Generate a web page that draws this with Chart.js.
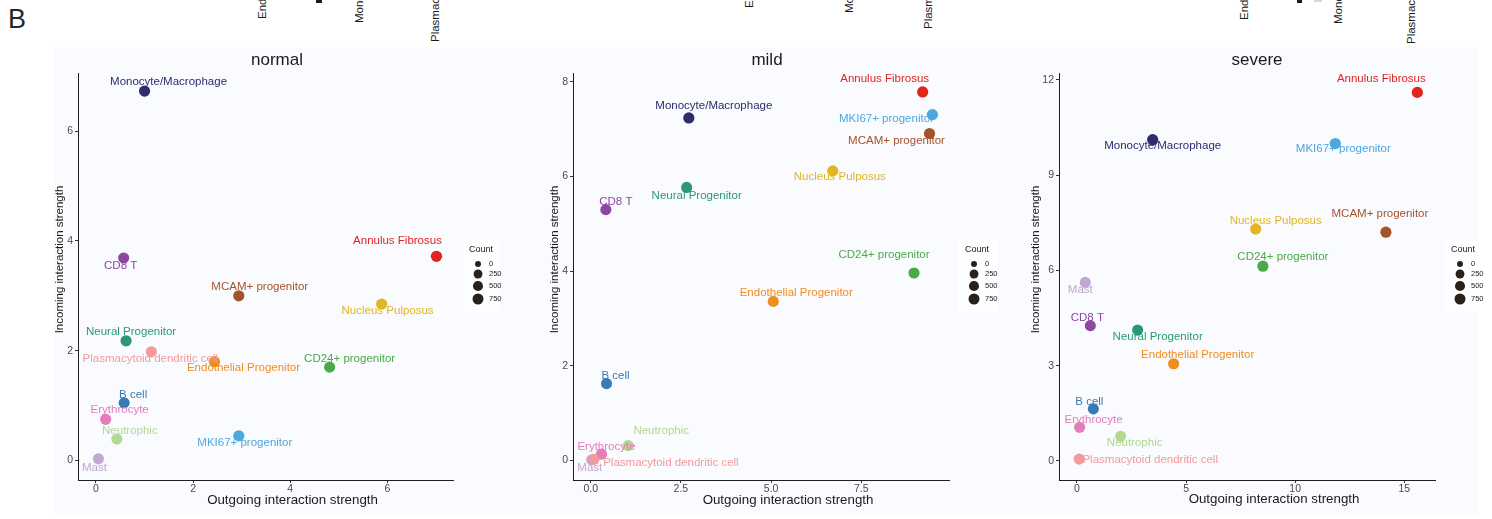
<!DOCTYPE html>
<html lang="en">
<head>
<meta charset="utf-8">
<title>Incoming vs outgoing interaction strength by cell type</title>
<script src="https://cdn.jsdelivr.net/npm/chart.js@4.4.1/dist/chart.umd.min.js"></script>
<style>
  html, body { margin:0; padding:0; background:#ffffff; }
  body { position:relative; width:1492px; height:519px; overflow:hidden;
         font-family:"Liberation Sans", Arial, Helvetica, sans-serif; }
  #plotBg { position:absolute; left:53px; top:47px; width:1424px; height:468px; background:#f9fbfe; }
  .legendBg { position:absolute; top:240px; height:72px; background:#fdfeff; }
  .figTag { position:absolute; left:8px; top:6px; font-size:27px; line-height:27px; color:#262626; }
  .edgeLabel { position:absolute; font-size:11.5px; line-height:11.5px; color:#1a1a1a;
               white-space:nowrap; transform:rotate(-90deg); transform-origin:0 0; }
  .edgeKey { position:absolute; top:0; }
  canvas { position:absolute; top:40px; }
</style>
</head>
<body>
<div id="plotBg"></div>
<div class="legendBg" style="left:463px;width:37px"></div>
<div class="legendBg" style="left:958px;width:40px"></div>
<div class="legendBg" style="left:1445px;width:32px"></div>

<div class="figTag">B</div>

<!-- axis labels of the figure row above, running off the top edge -->
<div class="edgeLabel" style="left:257px;top:19px">Endothelial Progenitor</div>
<div class="edgeKey" style="left:316px;width:6px;height:3px;background:#1a1a1a"></div>
<div class="edgeLabel" style="left:353.5px;top:22.5px">Monocyte/Macrophage</div>
<div class="edgeLabel" style="left:429.5px;top:42px">Plasmacytoid dendritic cell</div>

<div class="edgeLabel" style="left:743.5px;top:7.7px">Endothelial Progenitor</div>
<div class="edgeLabel" style="left:843.5px;top:12.7px">Monocyte/Macrophage</div>
<div class="edgeLabel" style="left:923px;top:29.3px">Plasmacytoid dendritic cell</div>

<div class="edgeLabel" style="left:1239px;top:20px">Endothelial Progenitor</div>
<div class="edgeKey" style="left:1297px;width:5px;height:3px;background:#1a1a1a"></div>
<div class="edgeKey" style="left:1314px;width:8px;height:2px;background:#d9d9d9"></div>
<div class="edgeLabel" style="left:1332.5px;top:24.3px">Monocyte/Macrophage</div>
<div class="edgeLabel" style="left:1406px;top:43.7px">Plasmacytoid dendritic cell</div>

<canvas id="panelNormal" width="475" height="475" style="left:40px"></canvas>
<canvas id="panelMild" width="500" height="475" style="left:500px"></canvas>
<canvas id="panelSevere" width="492" height="475" style="left:1000px"></canvas>

<script>
// ---- data ---------------------------------------------------------------
const categories = [
  "Annulus Fibrosus", "B cell", "CD24+ progenitor", "CD8 T",
  "Endothelial Progenitor", "Erythrocyte", "Mast", "MCAM+ progenitor",
  "MKI67+ progenitor", "Monocyte/Macrophage", "Neural Progenitor",
  "Neutrophic", "Nucleus Pulposus", "Plasmacytoid dendritic cell"
];

// outgoing (x) and incoming (y) interaction strength per condition
const normalX = [7.01, 0.58, 4.81, 0.57, 2.44, 0.20, 0.05, 2.94, 2.94, 1.00, 0.62, 0.43, 5.88, 1.14];
const normalY = [3.72, 1.05, 1.70, 3.69, 1.80, 0.75, 0.03, 3.00, 0.45, 6.73, 2.18, 0.39, 2.85, 1.98];

const mildX = [9.20, 0.44, 8.96, 0.42, 5.06, 0.30, 0.03, 9.39, 9.47, 2.72, 2.66, 1.04, 6.71, 0.09];
const mildY = [7.79, 1.62, 3.96, 5.30, 3.36, 0.13, 0.01, 6.91, 7.31, 7.24, 5.77, 0.31, 6.12, 0.02];

const severeX = [15.60, 0.75, 8.52, 0.61, 4.43, 0.12, 0.38, 14.16, 11.84, 3.47, 2.78, 2.00, 8.19, 0.10];
const severeY = [11.60, 1.64, 6.13, 4.26, 3.06, 1.06, 5.62, 7.20, 9.99, 10.11, 4.12, 0.78, 7.30, 0.06];

// cell counts per group (point size)
const normalCount = [820, 790, 800, 780, 810, 800, 790, 800, 820, 830, 800, 790, 810, 800];
const mildCount   = [820, 790, 800, 780, 810, 800, 790, 800, 820, 830, 800, 790, 810, 800];
const severeCount = [820, 790, 800, 780, 810, 800, 790, 800, 820, 830, 800, 790, 810, 800];

const countBreaks = [0, 250, 500, 750];
const countBreakLabels = ["0", "250", "500", "750"];

// axis ticks
const normalXTicks = [0, 2, 4, 6];        const normalXTickLabels = ["0", "2", "4", "6"];
const normalYTicks = [0, 2, 4, 6];        const normalYTickLabels = ["0", "2", "4", "6"];
const mildXTicks = [0, 2.5, 5, 7.5];      const mildXTickLabels = ["0.0", "2.5", "5.0", "7.5"];
const mildYTicks = [0, 2, 4, 6, 8];       const mildYTickLabels = ["0", "2", "4", "6", "8"];
const severeXTicks = [0, 5, 10, 15];      const severeXTickLabels = ["0", "5", "10", "15"];
const severeYTicks = [0, 3, 6, 9, 12];    const severeYTickLabels = ["0", "3", "6", "9", "12"];

// ---- styling -------------------------------------------------------------
const cellColors = [
  "#E0251F", "#3A7AB5", "#4BAA48", "#8E47A1", "#F08D1F", "#E47DBA", "#C3A6D2",
  "#A5532A", "#4DA8DE", "#2E2C6C", "#2B9873", "#B3D88F", "#E1B523", "#F39A9A"
];
const FONT = '"Liberation Sans", Arial, Helvetica, sans-serif';
const CANVAS_TOP = 40;

function countRadius(c) { return 3 + 2.5 * Math.sqrt(Math.max(c, 0) / 750); }

// label placement (pixel offset of each text from its point)
const normalLabelOffsets = [
  [-39, -15], [9, -8], [20, -8], [-3, 8], [29, 6], [14, -9], [-4, 9],
  [21, -9], [6, 7], [24, -9], [5, -9], [13, -8], [6, 7], [-1, 7]
];
const mildLabelOffsets = [
  [-38, -13], [9, -8], [-30, -18], [10, -8], [23, -9], [5, -7], [-2, 8],
  [-33, 7], [-46, 4], [25, -12], [10, 8], [33, -15], [7, 6], [77, 3]
];
const severeLabelOffsets = [
  [-36, -14], [-4, -7], [20, -9], [-3, -8], [24, -9], [14, -7], [-5, 7],
  [-6, -18], [8, 5], [10, 6], [20, 7], [14, 7], [20, -8], [71, 1]
];

const panels = [
  { canvas: "panelNormal", left: 40, title: "normal", titleX: 277, yTitleX: 60.3, xTitleY: 500.5,
    xs: normalX, ys: normalY, counts: normalCount,
    xRange: [-0.37, 7.35], yRange: [-0.356, 7.06],
    xTicks: normalXTicks, xTickLabels: normalXTickLabels,
    yTicks: normalYTicks, yTickLabels: normalYTickLabels,
    pad: { left: 8, right: 62 }, yAxisWidth: 30, labelOffsets: normalLabelOffsets },
  { canvas: "panelMild", left: 500, title: "mild", titleX: 767, yTitleX: 555.3, xTitleY: 500,
    xs: mildX, ys: mildY, counts: mildCount,
    xRange: [-0.49, 9.93], yRange: [-0.417, 8.19],
    xTicks: mildXTicks, xTickLabels: mildXTickLabels,
    yTicks: mildYTicks, yTickLabels: mildYTickLabels,
    pad: { left: 43, right: 51 }, yAxisWidth: 30, labelOffsets: mildLabelOffsets },
  { canvas: "panelSevere", left: 1000, title: "severe", titleX: 1257, yTitleX: 1036, xTitleY: 499,
    xs: severeX, ys: severeY, counts: severeCount,
    xRange: [-0.825, 16.41], yRange: [-0.598, 12.21],
    xTicks: severeXTicks, xTickLabels: severeXTickLabels,
    yTicks: severeYTicks, yTickLabels: severeYTickLabels,
    pad: { left: 24, right: 57 }, yAxisWidth: 35, labelOffsets: severeLabelOffsets }
];

// draws cell-type labels, panel title, axis titles and the size legend
function panelDecor(p) {
  return {
    id: "panelDecor",
    afterDatasetsDraw(chart) {
      const ctx = chart.ctx;
      const area = chart.chartArea;
      const meta = chart.getDatasetMeta(0);
      ctx.save();
      ctx.textAlign = "center";
      ctx.textBaseline = "middle";

      ctx.font = `11.5px ${FONT}`;
      meta.data.forEach((pt, i) => {
        const [dx, dy] = p.labelOffsets[i];
        ctx.fillStyle = cellColors[i];
        ctx.fillText(categories[i], pt.x + dx, pt.y + dy);
      });

      ctx.fillStyle = "#1a1a1a";
      ctx.font = `17px ${FONT}`;
      ctx.fillText(p.title, p.titleX - p.left, 60 - CANVAS_TOP);

      ctx.font = `13.3px ${FONT}`;
      ctx.fillText("Outgoing interaction strength", (area.left + area.right) / 2 + 27, p.xTitleY - CANVAS_TOP);

      ctx.save();
      ctx.translate(p.yTitleX - p.left, 259.5 - CANVAS_TOP);
      ctx.rotate(-Math.PI / 2);
      ctx.font = `11.5px ${FONT}`;
      ctx.fillText("Incoming interaction strength", 0, 0);
      ctx.restore();

      ctx.textAlign = "left";
      ctx.fillStyle = "#1a1a1a";
      ctx.font = `9px ${FONT}`;
      ctx.fillText("Count", area.right + 16, 250 - CANVAS_TOP);
      const keyY = [264, 274, 286, 299];
      countBreaks.forEach((c, k) => {
        ctx.beginPath();
        ctx.arc(area.right + 25, keyY[k] - CANVAS_TOP, countRadius(c), 0, Math.PI * 2);
        ctx.fillStyle = "#2a221a";
        ctx.fill();
        ctx.fillStyle = "#1a1a1a";
        ctx.font = `7.5px ${FONT}`;
        ctx.fillText(countBreakLabels[k], area.right + 36, keyY[k] - CANVAS_TOP);
      });
      ctx.restore();
    }
  };
}

function axisOptions(range, ticks, labels, fitFn, pad) {
  return {
    type: "linear",
    min: range[0],
    max: range[1],
    afterFit: fitFn,
    afterBuildTicks: (scale) => { scale.ticks = ticks.map(v => ({ value: v })); },
    grid: { drawOnChartArea: false, drawTicks: true, tickLength: 3, tickColor: "#333333", tickWidth: 1 },
    border: { display: true, color: "#1f1f1f", width: 1 },
    ticks: {
      autoSkip: false, maxRotation: 0, padding: pad, color: "#4a4a4a",
      font: { family: FONT, size: 10.5 },
      callback: (v, i) => labels[i]
    }
  };
}

panels.forEach((p) => {
  new Chart(document.getElementById(p.canvas), {
    type: "scatter",
    data: {
      datasets: [{
        data: p.xs.map((x, i) => ({ x: x, y: p.ys[i] })),
        pointRadius: p.counts.map(countRadius),
        pointHoverRadius: p.counts.map(countRadius),
        pointBackgroundColor: cellColors,
        pointBorderWidth: 0,
        pointBorderColor: "rgba(0,0,0,0)"
      }]
    },
    options: {
      responsive: false,
      animation: false,
      events: [],
      layout: { padding: { left: p.pad.left, right: p.pad.right, top: 33, bottom: 0 } },
      plugins: { legend: { display: false }, tooltip: { enabled: false }, title: { display: false } },
      scales: {
        x: axisOptions(p.xRange, p.xTicks, p.xTickLabels, (s) => { s.height = 35; }, 0),
        y: axisOptions(p.yRange, p.yTicks, p.yTickLabels, (s) => { s.width = p.yAxisWidth; }, 2)
      }
    },
    plugins: [panelDecor(p)]
  });
});
</script>
</body>
</html>
